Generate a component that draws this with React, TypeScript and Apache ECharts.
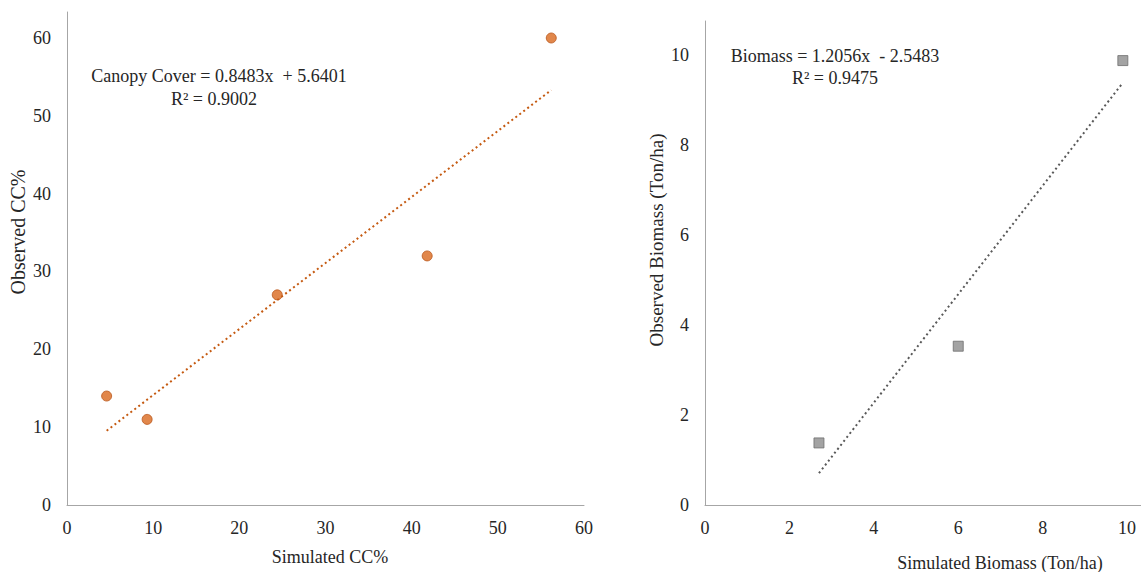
import React, { useEffect, useRef } from "react";
import * as echarts from "echarts";

const ccSimulated = [4.6, 9.3, 24.4, 41.8, 56.2];
const ccObserved = [14.0, 11.0, 27.0, 32.0, 60.0];
const ccSlope = 0.8483;
const ccIntercept = 5.6401;

const bmSimulated = [2.7, 6.0, 9.9];
const bmObserved = [1.38, 3.53, 9.88];
const bmSlope = 1.2056;
const bmIntercept = -2.5483;

const FONT = "Liberation Serif";

function trend(xs: number[], slope: number, intercept: number) {
  const lo = Math.min(...xs);
  const hi = Math.max(...xs);
  return [
    [lo, slope * lo + intercept],
    [hi, slope * hi + intercept],
  ];
}

export default function App() {
  const ref = useRef<HTMLDivElement>(null);
  useEffect(() => {
    if (!ref.current) return;
    const chart = echarts.init(ref.current, undefined, { renderer: "svg" });
    const axisLine = { show: true, lineStyle: { color: "#a6a6a6", width: 1 } };
    const axisLabel = { color: "#262626", fontFamily: FONT, fontSize: 18, margin: 14 };
    const txt = (text: string, x: number, y: number, size = 18, rot = 0) => ({
      type: "text", x, y, rotation: rot,
      style: { text, fontFamily: FONT, fontSize: size, fill: "#262626", align: "center", verticalAlign: "middle" },
    });
    chart.setOption({
      animation: false,
      backgroundColor: "#ffffff",
      grid: [
        { left: 67, top: 12, width: 517, height: 493 },
        { left: 705, top: 21, width: 436, height: 484 },
      ],
      xAxis: [
        {
          gridIndex: 0, type: "value", min: 0, max: 60, interval: 10,
          axisLine, axisTick: { show: false }, splitLine: { show: false }, axisLabel,
        },
        {
          gridIndex: 1, type: "value", min: 0, max: 10.33, interval: 2,
          axisLine, axisTick: { show: false }, splitLine: { show: false },
          axisLabel: { ...axisLabel, showMaxLabel: false },
        },
      ],
      yAxis: [
        {
          gridIndex: 0, type: "value", min: 0, max: 63.34, interval: 10,
          axisLine, axisTick: { show: false }, splitLine: { show: false },
          axisLabel: { ...axisLabel, showMaxLabel: false, margin: 16 },
        },
        {
          gridIndex: 1, type: "value", min: 0, max: 10.76, interval: 2,
          axisLine, axisTick: { show: false }, splitLine: { show: false },
          axisLabel: { ...axisLabel, showMaxLabel: false, margin: 16 },
        },
      ],
      series: [
        {
          type: "line", xAxisIndex: 0, yAxisIndex: 0,
          data: trend(ccSimulated, ccSlope, ccIntercept),
          showSymbol: false, symbol: "none",
          lineStyle: { color: "#c55a11", width: 2, type: [2, 3] },
          z: 1,
        },
        {
          type: "scatter", xAxisIndex: 0, yAxisIndex: 0,
          data: ccSimulated.map((x, i) => [x, ccObserved[i]]),
          symbol: "circle", symbolSize: 10,
          itemStyle: { color: "#d9691e", borderColor: "#b9561a", borderWidth: 1 },
          z: 3,
        },
        {
          type: "line", xAxisIndex: 1, yAxisIndex: 1,
          data: trend(bmSimulated, bmSlope, bmIntercept),
          showSymbol: false, symbol: "none",
          lineStyle: { color: "#595959", width: 2, type: [2, 3] },
          z: 1,
        },
        {
          type: "scatter", xAxisIndex: 1, yAxisIndex: 1,
          data: bmSimulated.map((x, i) => [x, bmObserved[i]]),
          symbol: "rect", symbolSize: 10,
          itemStyle: { color: "#8c8c8c", borderColor: "#6e6e6e", borderWidth: 1 },
          z: 3,
        },
      ],
      graphic: [
        txt("Canopy Cover = 0.8483x  + 5.6401", 219, 76),
        txt("R² = 0.9002", 214, 99),
        txt("Biomass = 1.2056x  - 2.5483", 835, 56),
        txt("R² = 0.9475", 835, 78),
        txt("Simulated CC%", 330, 557),
        txt("Simulated Biomass (Ton/ha)", 1000, 563),
        txt("Observed CC%", 18, 232, 20, Math.PI / 2),
        txt("Observed Biomass (Ton/ha)", 656, 240, 19, Math.PI / 2),
      ],
    });
    return () => chart.dispose();
  }, []);
  return (
    <div
      ref={ref}
      style={{ position: "fixed", left: 0, top: 0, width: 1141, height: 572, background: "#fff" }}
    />
  );
}
